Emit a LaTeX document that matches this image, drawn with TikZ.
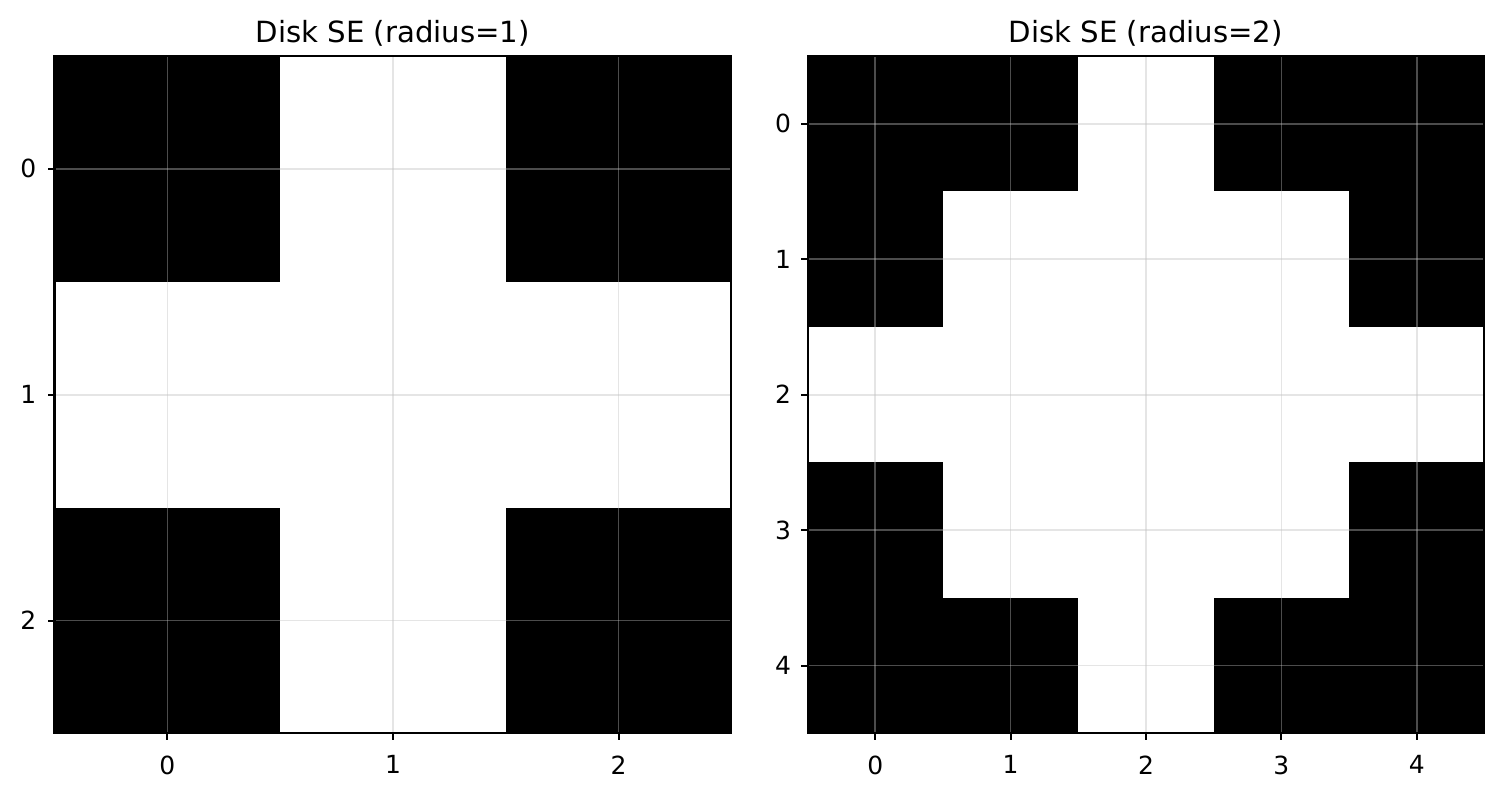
\documentclass[tikz,border=0pt]{standalone}
\usepackage{fontspec}
\setmainfont{DejaVu Sans}
\usetikzlibrary{positioning}
\tikzset{
  cellfill/.style={fill=black},
  gridline/.style={draw=black!25, draw opacity=0.4, line width=0.46pt},
  axisframe/.style={draw=black, line width=0.57pt},
  tickmark/.style={draw=black, line width=0.57pt},
  ticklabel/.style={inner sep=0pt, font=\fontsize{7.1}{8.5}\selectfont},
  paneltitle/.style={inner sep=0pt, anchor=base, font=\fontsize{8.3}{10}\selectfont},
}

\begin{document}
\begin{tikzpicture}[x=0.01cm, y=-0.01cm]
  \useasboundingbox (0,0) rectangle (1503,797);

  % titles
  \node[paneltitle] (titleA) at (392.75,42) {Disk SE (radius=1)};
  \node[paneltitle] (titleB) at (1145.75,42) {Disk SE (radius=2)};

  % left panel, radius 1
  \begin{scope}[shift={(54.5,56)}, x=2.255cm, y=-2.2567cm]
    \foreach \c/\r in {0/0,2/0,0/2,2/2}
      \fill[cellfill] (\c,\r) rectangle ++(1,1);
    \foreach \k in {0,1,2} {
      \draw[gridline] (\k+0.5,0) -- (\k+0.5,3);
      \draw[gridline] (0,\k+0.5) -- (3,\k+0.5);
    }
    \draw[axisframe] (0,0) rectangle (3,3);
    \foreach \k in {0,1,2} {
      \coordinate (ax\k) at (\k+0.5,3);
      \coordinate (ay\k) at (0,\k+0.5);
      \draw[tickmark] (ax\k) -- ++(0pt,-1.99pt);
      \draw[tickmark] (ay\k) -- ++(-1.99pt,0pt);
      \node[ticklabel, below=6.1pt of ax\k] (axl\k) {\k};
      \node[ticklabel, left=5.0pt of ay\k] (ayl\k) {\k};
    }
  \end{scope}

  % right panel, radius 2
  \begin{scope}[shift={(807.5,56)}, x=1.353cm, y=-1.354cm]
    \foreach \c/\r in {0/0,1/0,3/0,4/0,0/1,4/1,0/3,4/3,0/4,1/4,3/4,4/4}
      \fill[cellfill] (\c,\r) rectangle ++(1,1);
    \foreach \k in {0,...,4} {
      \draw[gridline] (\k+0.5,0) -- (\k+0.5,5);
      \draw[gridline] (0,\k+0.5) -- (5,\k+0.5);
    }
    \draw[axisframe] (0,0) rectangle (5,5);
    \foreach \k in {0,...,4} {
      \coordinate (bx\k) at (\k+0.5,5);
      \coordinate (by\k) at (0,\k+0.5);
      \draw[tickmark] (bx\k) -- ++(0pt,-1.99pt);
      \draw[tickmark] (by\k) -- ++(-1.99pt,0pt);
      \node[ticklabel, below=6.1pt of bx\k] (bxl\k) {\k};
      \node[ticklabel, left=4.5pt of by\k] (byl\k) {\k};
    }
  \end{scope}
\end{tikzpicture}
\end{document}
